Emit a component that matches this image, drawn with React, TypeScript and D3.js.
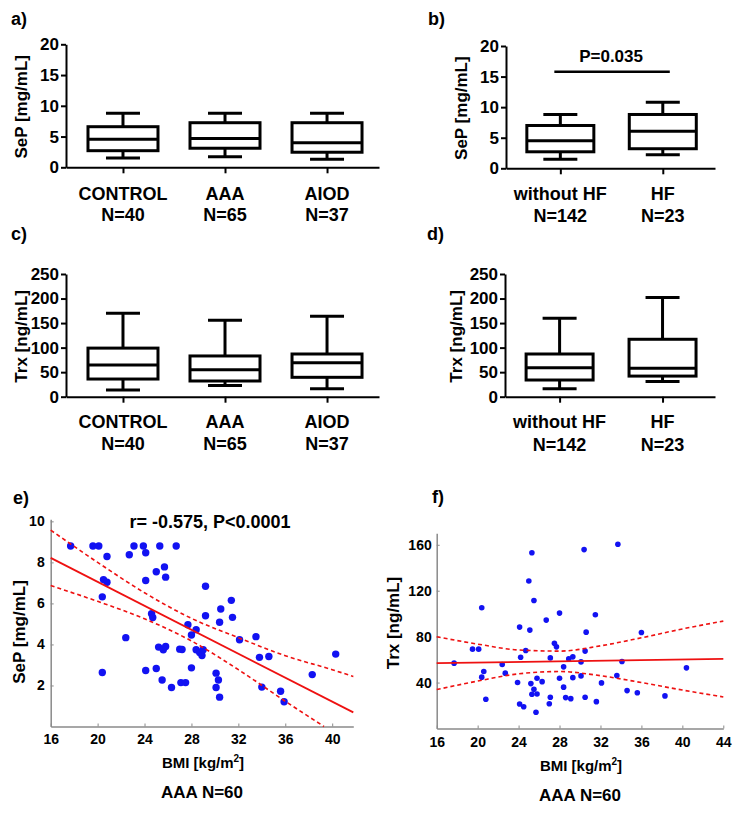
import React, { useEffect, useRef } from 'react';
import * as d3 from 'd3';

const FONT = "'Liberation Sans', Arial, Helvetica, sans-serif";

// box plot categories
const groupsVessel = ['CONTROL', 'AAA', 'AIOD'];
const countsVessel = ['N=40', 'N=65', 'N=37'];
const groupsHF = ['without HF', 'HF'];
const countsHF = ['N=142', 'N=23'];

// [lower whisker, Q1, median, Q3, upper whisker]
const sepVessel = [
  [1.5, 2.7, 4.55, 6.6, 8.8],
  [1.7, 3.1, 4.7, 7.25, 8.8],
  [1.3, 2.45, 4.0, 7.25, 8.8],
];
const sepHF = [
  [1.5, 2.7, 4.5, 7.0, 8.8],
  [2.2, 3.2, 6.05, 8.8, 10.8],
];
const trxVessel = [
  [13.5, 36, 64.5, 99, 170],
  [23, 32, 55, 83, 156],
  [16, 39.5, 69, 87, 164],
];
const trxHF = [
  [16, 34, 59, 87, 160],
  [31, 42, 58, 117, 202],
];
const sepTicks = [0, 5, 10, 15, 20];
const trxTicks = [0, 50, 100, 150, 200, 250];
const sepSignif = 15.8;

// scatter e) BMI vs SeP
const bmiSeP = [17.7, 19.6, 20.1, 20.8, 20.5, 20.8, 20.4, 20.4, 22.4, 22.7,
  23.1, 23.9, 24.1, 24.1, 24.1, 24.6, 24.7, 25.0, 25.3, 25.0,
  25.7, 25.8, 25.2, 25.6, 25.8, 25.5, 26.3, 26.7, 27.1, 27.5,
  27.0, 27.2, 27.7, 28.0, 28.0, 28.4, 28.4, 28.7, 28.9, 29.0,
  29.2, 29.2, 30.1, 30.3, 30.1, 30.4, 30.4, 30.5, 31.4, 31.5,
  32.1, 33.5, 33.8, 34.6, 34.0, 35.6, 35.9, 38.3, 40.3];
const sepValues = [8.8, 8.8, 8.8, 8.29, 7.16, 7.03, 6.32, 2.63, 4.33, 8.37,
  8.8, 8.8, 8.47, 7.12, 2.73, 5.5, 5.31, 2.83, 8.8, 7.54,
  7.78, 7.28, 3.87, 3.74, 3.9, 2.27, 1.9, 8.8, 2.14, 2.14,
  3.77, 3.75, 4.96, 4.46, 2.86, 4.72, 3.74, 3.61, 3.46, 3.74,
  6.84, 5.4, 2.6, 2.27, 1.9, 1.43, 5.08, 5.73, 6.15, 5.32,
  4.23, 4.38, 3.37, 3.41, 1.92, 1.72, 1.21, 2.53, 3.53];
const sepFit = [[16, 8.22], [41.8, 0.69]];
const sepCiUpper = [[16, 9.57], [20, 8.0], [24, 6.52], [28, 5.27], [32, 4.33], [36, 3.45], [40, 2.77], [41.8, 2.44]];
const sepCiLower = [[16, 6.87], [20, 6.1], [24, 5.25], [28, 4.17], [32, 2.77], [36, 1.23], [39.3, 0]];

// scatter f) BMI vs Trx
const bmiTrx = [17.7, 19.5, 20.1, 20.4, 20.6, 20.4, 20.8, 22.4, 22.7, 23.9,
  24.1, 24.2, 24.1, 24.5, 24.7, 25.0, 25.1, 25.3, 25.5, 25.2,
  25.3, 25.5, 25.7, 25.8, 25.8, 26.3, 26.7, 27.0, 27.1, 27.1,
  27.5, 27.7, 28.0, 28.0, 28.4, 28.4, 28.6, 28.9, 29.1, 29.3,
  29.3, 30.1, 30.1, 30.4, 30.5, 30.5, 30.6, 33.7, 31.5, 31.6,
  32.1, 33.6, 34.1, 34.6, 35.6, 36.0, 38.3, 40.4];
const trxValues = [56.9, 69.1, 69.1, 105.1, 49.6, 44.7, 25.5, 55.7, 48.2, 40.0,
  88.3, 62.1, 21.4, 19.0, 67.9, 128.4, 85.7, 153.1, 111.5, 39.1,
  29.8, 34.2, 14.1, 43.8, 30.1, 40.8, 94.4, 21.6, 27.2, 61.5,
  74.3, 71.1, 100.5, 43.8, 53.7, 36.0, 26.9, 60.6, 26.0, 62.4,
  44.3, 58.0, 45.8, 155.8, 67.4, 27.2, 83.9, 160.4, 99.0, 23.4,
  39.7, 46.1, 58.3, 33.0, 31.2, 83.6, 28.4, 52.8];
const trxFit = [[16, 56.9], [44, 60.6]];
const trxCiUpper = [[16, 79.9], [20, 73.5], [24, 68.4], [28, 67.4], [32, 72.0], [36, 79.0], [40, 86.7], [44, 93.5]];
const trxCiLower = [[16, 33.9], [20, 41.3], [24, 47.6], [28, 49.6], [32, 46.0], [36, 40.0], [40, 33.5], [44, 27.5]];

const bmiTicks = [16, 20, 24, 28, 32, 36, 40];
const bmiTicksWide = [16, 20, 24, 28, 32, 36, 40, 44];

function bold(sel: any, size: number) {
  return sel.attr('font-family', FONT).attr('font-weight', 'bold').attr('font-size', size).attr('fill', '#000');
}

function drawBoxPanel(svg: any, p: any) {
  const x = d3.scalePoint<string>().domain(p.groups).range([p.left, p.right]).padding(p.pad).align(p.align);
  const y = d3.scaleLinear().domain([0, p.yMax]).range([p.bottom, p.top]);
  const g = svg.append('g');

  const ya = g.append('g').attr('transform', `translate(${p.left},0)`)
    .call(d3.axisLeft(y).tickValues(p.ticks).tickSize(5).tickSizeOuter(0).tickPadding(2));
  const xa = g.append('g').attr('transform', `translate(0,${p.bottom})`)
    .call(d3.axisBottom(x).tickSize(6).tickSizeOuter(0).tickFormat(() => ''));
  [ya, xa].forEach((a) => {
    a.attr('font-family', FONT).attr('font-size', 17).attr('font-weight', 'bold');
    a.select('.domain').attr('stroke', '#000').attr('stroke-width', 2);
    a.selectAll('.tick line').attr('stroke', '#000').attr('stroke-width', 2);
    a.selectAll('.tick text').attr('fill', '#000');
  });

  const bw = p.boxWidth;
  const box = g.selectAll('g.box').data(p.stats).join('g')
    .attr('class', 'box')
    .attr('transform', (d: number[], i: number) => `translate(${x(p.groups[i])},0)`)
    .attr('stroke', '#000').attr('stroke-width', 3).attr('fill', 'none');
  box.append('line').attr('y1', (d: number[]) => y(d[0])).attr('y2', (d: number[]) => y(d[1]));
  box.append('line').attr('y1', (d: number[]) => y(d[3])).attr('y2', (d: number[]) => y(d[4]));
  box.append('line').attr('x1', -17).attr('x2', 17).attr('y1', (d: number[]) => y(d[0])).attr('y2', (d: number[]) => y(d[0]));
  box.append('line').attr('x1', -17).attr('x2', 17).attr('y1', (d: number[]) => y(d[4])).attr('y2', (d: number[]) => y(d[4]));
  box.append('rect').attr('x', -bw / 2).attr('width', bw)
    .attr('y', (d: number[]) => y(d[3])).attr('height', (d: number[]) => y(d[1]) - y(d[3]));
  box.append('line').attr('x1', -bw / 2).attr('x2', bw / 2).attr('y1', (d: number[]) => y(d[2])).attr('y2', (d: number[]) => y(d[2]));

  bold(g.selectAll('text.cat').data(p.groups).join('text'), 18)
    .attr('x', (d: string) => x(d)).attr('y', p.catY).attr('text-anchor', 'middle').text((d: string) => d);
  bold(g.selectAll('text.cnt').data(p.counts).join('text'), 18)
    .attr('x', (d: string, i: number) => x(p.groups[i])).attr('y', p.countY).attr('text-anchor', 'middle').text((d: string) => d);

  bold(g.append('text'), 17)
    .attr('transform', `translate(${p.titleX},${(p.top + p.bottom) / 2 + 1}) rotate(-90)`)
    .attr('text-anchor', 'middle').attr('dy', '0.35em').text(p.yTitle);
  bold(g.append('text'), 18).attr('x', p.letterX).attr('y', p.letterY).text(p.letter);

  if (p.signif) {
    const x1 = x(p.groups[0])! - 6;
    const x2 = x(p.groups[1])! + 7;
    g.append('line').attr('x1', x1).attr('x2', x2).attr('y1', y(p.signif)).attr('y2', y(p.signif))
      .attr('stroke', '#000').attr('stroke-width', 2.5);
    bold(g.append('text'), 17).attr('x', (x1 + x2) / 2 - 1).attr('y', y(p.signif) - 10)
      .attr('text-anchor', 'middle').text(p.signifText);
  }
}

function drawScatterPanel(svg: any, p: any) {
  const x = d3.scaleLinear().domain(p.xDomain).range([p.left, p.right]);
  const y = d3.scaleLinear().domain(p.yDomain).range([p.bottom, p.top]);
  const g = svg.append('g');

  const xa = g.append('g').attr('transform', `translate(0,${p.bottom})`)
    .call(d3.axisBottom(x).tickValues(p.xTicks).tickSize(-3).tickSizeOuter(0).tickPadding(p.xPad));
  const ya = g.append('g').attr('transform', `translate(${p.left},0)`)
    .call(d3.axisLeft(y).tickValues(p.yTicks).tickSize(-3).tickSizeOuter(0).tickPadding(p.yPad));
  [xa, ya].forEach((a) => {
    a.attr('font-family', FONT).attr('font-size', 14).attr('font-weight', 'bold');
    a.select('.domain').attr('stroke', '#8a8a8a').attr('stroke-width', 1.5);
    a.selectAll('.tick line').attr('stroke', '#8a8a8a');
    a.selectAll('.tick text').attr('fill', '#000');
  });

  g.selectAll('circle').data(p.xs).join('circle')
    .attr('cx', (d: number) => x(d)).attr('cy', (d: number, i: number) => y(p.ys[i]))
    .attr('r', p.r).attr('fill', '#1212f2');

  const line = d3.line<number[]>().x((d) => x(d[0])).y((d) => y(d[1]));
  const curve = d3.line<number[]>().x((d) => x(d[0])).y((d) => y(d[1])).curve(d3.curveMonotoneX);
  g.append('path').attr('d', line(p.fit)).attr('fill', 'none').attr('stroke', '#ee1111').attr('stroke-width', 1.8);
  [p.ciUpper, p.ciLower].forEach((ci: number[][]) => {
    g.append('path').attr('d', curve(ci)).attr('fill', 'none').attr('stroke', '#ee1111')
      .attr('stroke-width', 1.6).attr('stroke-dasharray', '4,3');
  });

  bold(g.append('text'), 17)
    .attr('transform', `translate(${p.titleX},${p.titleY}) rotate(-90)`)
    .attr('text-anchor', 'middle').attr('dy', '0.35em').text(p.yTitle);
  const xt = bold(g.append('text'), 15).attr('x', p.xTitleX).attr('y', p.xTitleY).attr('text-anchor', 'middle');
  xt.append('tspan').text('BMI [kg/m');
  xt.append('tspan').attr('font-size', 10).attr('dy', -6).text('2');
  xt.append('tspan').attr('dy', 6).text(']');
  bold(g.append('text'), 17).attr('x', p.xTitleX - 1).attr('y', p.groupY).attr('text-anchor', 'middle').text(p.groupText);
  bold(g.append('text'), 18).attr('x', p.letterX).attr('y', p.letterY).text(p.letter);
  if (p.stat) {
    bold(g.append('text'), 18).attr('x', p.statX).attr('y', p.statY).attr('text-anchor', 'middle').text(p.stat);
  }
}

export default function App() {
  const ref = useRef<SVGSVGElement>(null);

  useEffect(() => {
    const svg = d3.select(ref.current);
    svg.selectAll('*').remove();

    drawBoxPanel(svg, {
      groups: groupsVessel, counts: countsVessel, stats: sepVessel, ticks: sepTicks, yMax: 20,
      left: 66, right: 379, top: 44.3, bottom: 167.3, pad: 0.534, align: 0.523, boxWidth: 70,
      catY: 200, countY: 221, yTitle: 'SeP [mg/mL]', titleX: 21, letter: 'a)', letterX: 11, letterY: 25,
    });
    drawBoxPanel(svg, {
      groups: groupsHF, counts: countsHF, stats: sepHF, ticks: sepTicks, yMax: 20,
      left: 506, right: 715, top: 46, bottom: 168.3, pad: 0.52, align: 0.51, boxWidth: 67,
      catY: 200, countY: 222, yTitle: 'SeP [mg/mL]', titleX: 461, letter: 'b)', letterX: 428, letterY: 25,
      signif: sepSignif, signifText: 'P=0.035',
    });
    drawBoxPanel(svg, {
      groups: groupsVessel, counts: countsVessel, stats: trxVessel, ticks: trxTicks, yMax: 250,
      left: 66, right: 379, top: 274, bottom: 396.7, pad: 0.534, align: 0.523, boxWidth: 70,
      catY: 428, countY: 450, yTitle: 'Trx [ng/mL]', titleX: 21, letter: 'c)', letterX: 11, letterY: 240,
    });
    drawBoxPanel(svg, {
      groups: groupsHF, counts: countsHF, stats: trxHF, ticks: trxTicks, yMax: 250,
      left: 505, right: 715, top: 274, bottom: 396.7, pad: 0.52, align: 0.51, boxWidth: 67,
      catY: 428, countY: 451, yTitle: 'Trx [ng/mL]', titleX: 456, letter: 'd)', letterX: 427, letterY: 240,
    });
    drawScatterPanel(svg, {
      xs: bmiSeP, ys: sepValues, fit: sepFit, ciUpper: sepCiUpper, ciLower: sepCiLower,
      xDomain: [16, 41.8], yDomain: [0, 10.1], xTicks: bmiTicks, yTicks: [2, 4, 6, 8, 10],
      left: 50.7, right: 353.3, top: 519.3, bottom: 726.5, xPad: 8, yPad: 6, r: 3.7,
      yTitle: 'SeP [mg/mL]', titleX: 19, titleY: 632, xTitleX: 203, xTitleY: 768,
      groupText: 'AAA N=60', groupY: 798, letter: 'e)', letterX: 13, letterY: 504,
      stat: 'r= -0.575, P<0.0001', statX: 210, statY: 528,
    });
    drawScatterPanel(svg, {
      xs: bmiTrx, ys: trxValues, fit: trxFit, ciUpper: trxCiUpper, ciLower: trxCiLower,
      xDomain: [16, 44], yDomain: [0, 170], xTicks: bmiTicksWide, yTicks: [40, 80, 120, 160],
      left: 436.7, right: 723.3, top: 533.3, bottom: 728.5, xPad: 8.5, yPad: 5, r: 2.8,
      yTitle: 'Trx [ng/mL]', titleX: 393, titleY: 623, xTitleX: 581, xTitleY: 771,
      groupText: 'AAA N=60', groupY: 801, letter: 'f)', letterX: 432, letterY: 503,
    });
  }, []);

  return (
    <svg ref={ref} width={750} height={814}
         style={{ position: 'absolute', left: 0, top: 0, background: '#fff', display: 'block' }} />
  );
}
